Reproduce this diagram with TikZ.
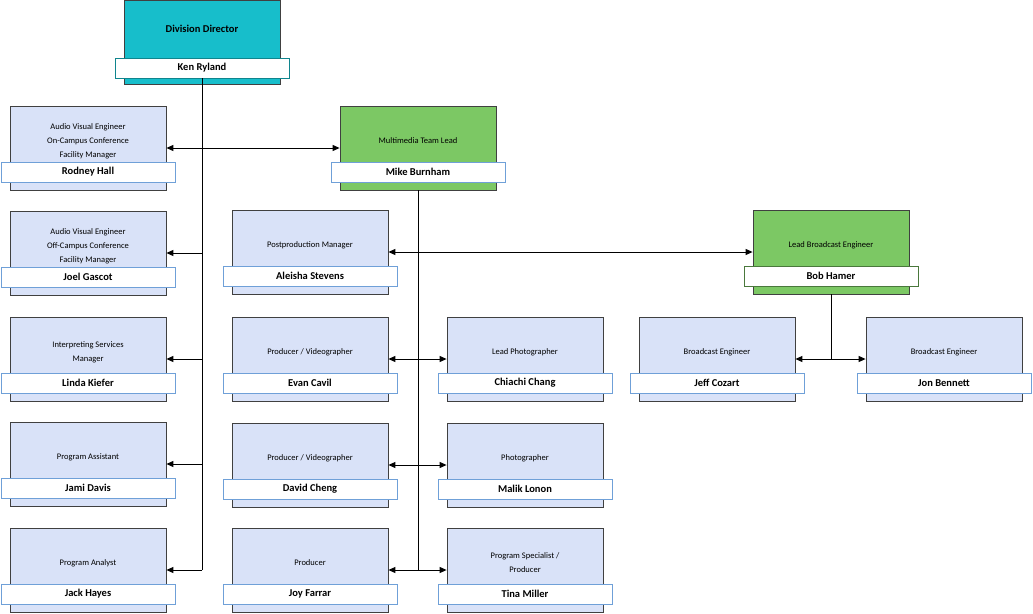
\documentclass[tikz,border=0pt]{standalone}
\usepackage{fontspec}
\setmainfont{Carlito}
\usetikzlibrary{arrows.meta}
\definecolor{boxblue}{HTML}{D9E2F8}
\definecolor{teal1}{HTML}{17BECB}
\definecolor{green1}{HTML}{7CC864}
\definecolor{tagblue}{HTML}{6FA0D8}
\definecolor{edge}{HTML}{404040}
\tikzset{
  x=1pt,y=-1pt,
  roleframe/.style={draw=edge,line width=0.8pt,minimum height=84pt,inner sep=0pt},
  tagframe/.style={fill=white,line width=0.7pt,minimum height=20pt,inner sep=0pt,font=\fontsize{10.5}{12}\selectfont\bfseries},
  roletext/.style={align=center,font=\fontsize{8.5}{14}\selectfont,inner sep=0pt},
  conn/.style={line width=1pt,black},
  arr/.style={conn,-{Triangle[length=7pt,width=6pt]}},
  darr/.style={conn,{Triangle[length=7pt,width=6pt]}-{Triangle[length=7pt,width=6pt]}},
}
% #1 name, #2 cx, #3 top, #4 fill, #5 tag border, #6 role, #7 person
\newcommand{\orgbox}[7]{%
  \node[roleframe,fill=#4,minimum width=156pt] (#1) at (#2,#3+42) {};
  \node[roletext] (#1r) at (#2,#3+35) {#6};
  \node[tagframe,draw=#5,minimum width=174pt] (#1t) at (#2,#3+66) {#7};
}
\begin{document}
\begin{tikzpicture}
\useasboundingbox (0,0) rectangle (1033,613);
% director
\node[roleframe,fill=teal1,minimum width=156pt] (dir) at (202,42) {};
\node[roletext,font=\fontsize{10.5}{12}\selectfont\bfseries] (dirr) at (202,29) {Division Director};
\node[tagframe,draw=teal1!70!black,minimum width=174pt] (dirt) at (202,68) {Ken Ryland};
% left column
\orgbox{rodney}{88}{106}{boxblue}{tagblue}{Audio Visual Engineer\\On-Campus Conference\\Facility Manager}{Rodney Hall}
\orgbox{joel}{88}{211}{boxblue}{tagblue}{Audio Visual Engineer\\Off-Campus Conference\\Facility Manager}{Joel Gascot}
\orgbox{linda}{88}{317}{boxblue}{tagblue}{Interpreting Services\\Manager}{Linda Kiefer}
\orgbox{jami}{88}{422}{boxblue}{tagblue}{Program Assistant}{Jami Davis}
\orgbox{jack}{88}{528}{boxblue}{tagblue}{Program Analyst}{Jack Hayes}
% mike
\orgbox{mike}{418}{106}{green1}{tagblue}{Multimedia Team Lead}{Mike Burnham}
% middle
\orgbox{aleisha}{310}{210}{boxblue}{tagblue}{Postproduction Manager}{Aleisha Stevens}
\orgbox{evan}{310}{317}{boxblue}{tagblue}{Producer / Videographer}{Evan Cavil}
\orgbox{david}{310}{423}{boxblue}{tagblue}{Producer / Videographer}{David Cheng}
\orgbox{joy}{310}{528}{boxblue}{tagblue}{Producer}{Joy Farrar}
% right
\orgbox{chiachi}{525}{317}{boxblue}{tagblue}{Lead Photographer}{Chiachi Chang}
\orgbox{malik}{525}{423}{boxblue}{tagblue}{Photographer}{Malik Lonon}
\orgbox{tina}{525}{528}{boxblue}{tagblue}{Program Specialist /\\Producer}{Tina Miller}
% broadcast
\orgbox{bob}{831}{210}{green1}{green1!60!black}{Lead Broadcast Engineer}{Bob Hamer}
\orgbox{jeff}{717}{317}{boxblue}{tagblue}{Broadcast Engineer}{Jeff Cozart}
\orgbox{jon}{944}{317}{boxblue}{tagblue}{Broadcast Engineer}{Jon Bennett}
% connectors
\draw[conn] (dirt.south) -- (dirt.south |- jack.east);
\draw[darr] (rodney.east) -- (mike.west);
\draw[arr] (dirt.south |- joel.east) -- (joel.east);
\draw[arr] (dirt.south |- linda.east) -- (linda.east);
\draw[arr] (dirt.south |- jami.east) -- (jami.east);
\draw[arr] (dirt.south |- jack.east) -- (jack.east);
\draw[conn] (mike.south) -- (mike.south |- joy.east);
\draw[darr] (aleisha.east) -- (bob.west);
\draw[darr] (evan.east) -- (chiachi.west);
\draw[darr] (david.east) -- (malik.west);
\draw[darr] (joy.east) -- (tina.west);
\draw[conn] (bob.south) -- (bob.south |- jeff.east);
\draw[darr] (jeff.east) -- (jon.west);
\end{tikzpicture}
\end{document}
